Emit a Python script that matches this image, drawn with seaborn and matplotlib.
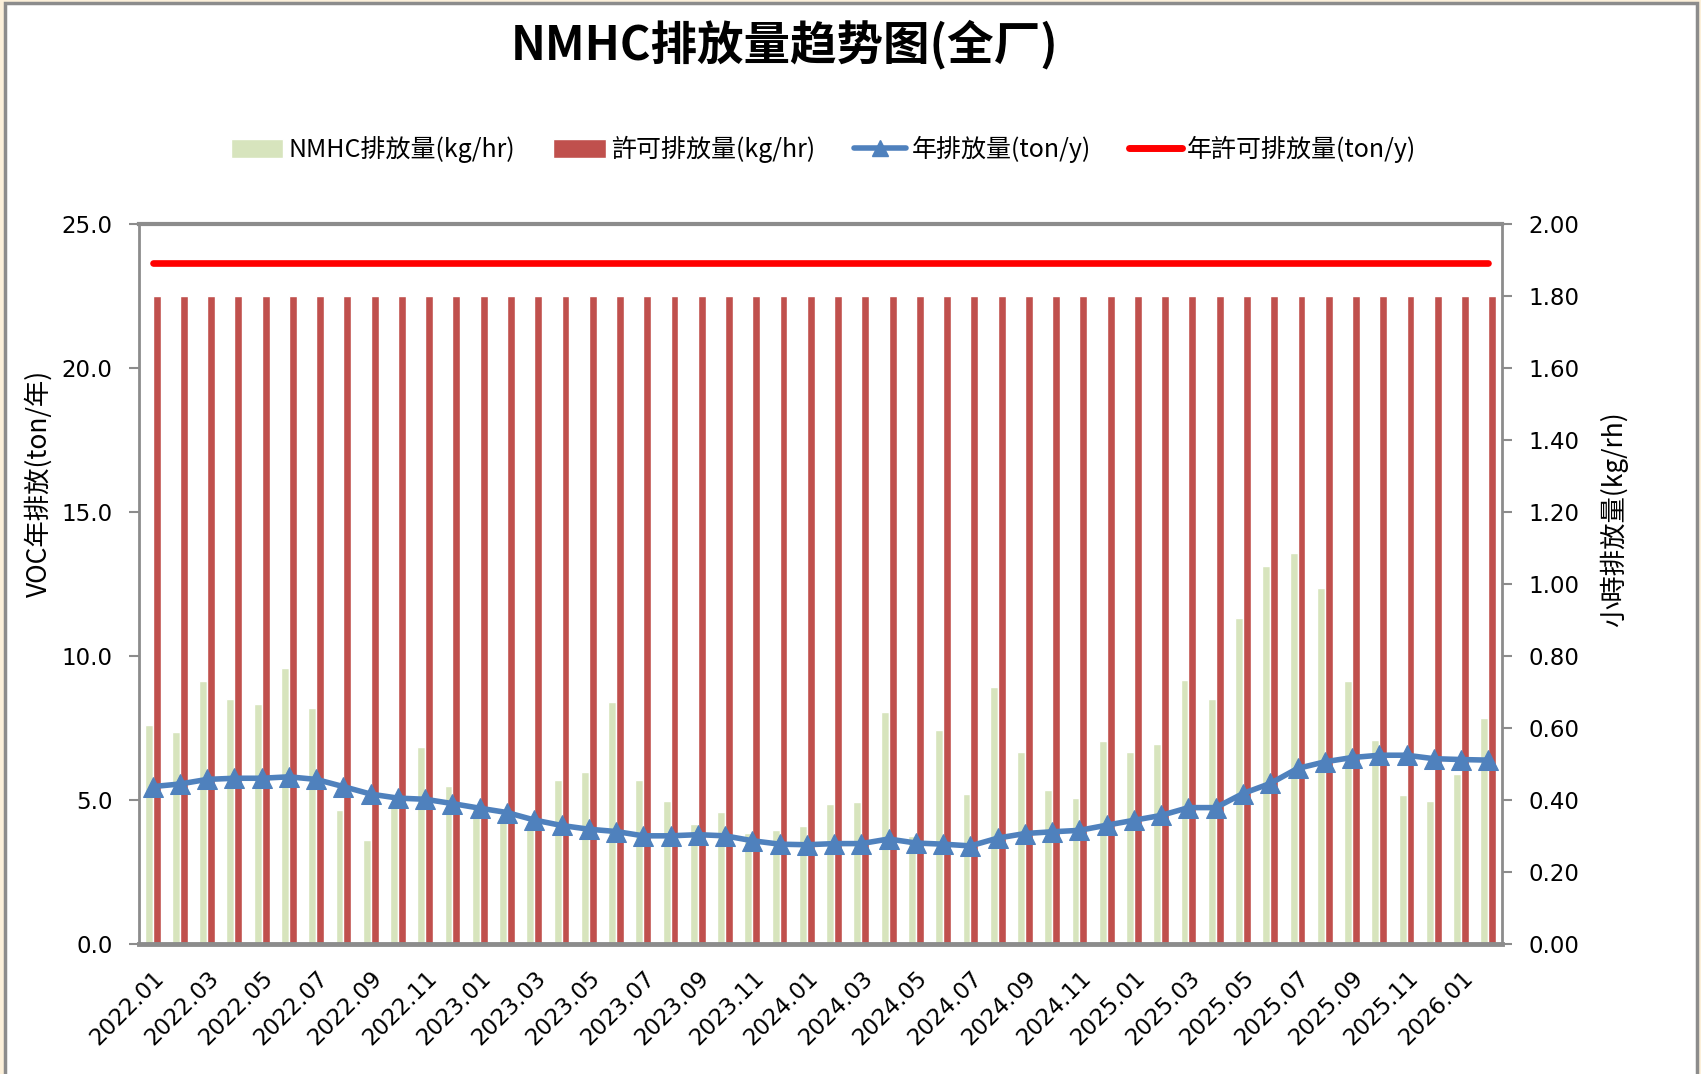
import numpy as np
import pandas as pd
import matplotlib
matplotlib.use("Agg")
import matplotlib.pyplot as plt
import seaborn as sns
from matplotlib.ticker import MultipleLocator, FormatStrFormatter
from matplotlib.patches import Patch, Rectangle
from matplotlib.lines import Line2D

# months 2022.01 - 2026.02
months = list(pd.period_range("2022-01", "2026-02", freq="M").strftime("%Y.%m"))

# hourly NMHC emission (kg/hr), right axis
nmhc_hr = [0.609, 0.589, 0.731, 0.681, 0.668, 0.768, 0.656, 0.373, 0.288, 0.384,
           0.549, 0.438, 0.390, 0.360, 0.330, 0.456, 0.477, 0.674, 0.456, 0.398,
           0.335, 0.366, 0.310, 0.317, 0.327, 0.388, 0.395, 0.645, 0.300, 0.595,
           0.417, 0.714, 0.535, 0.428, 0.406, 0.565, 0.535, 0.556, 0.735, 0.681,
           0.905, 1.050, 1.086, 0.989, 0.731, 0.568, 0.413, 0.398, 0.474, 0.628]
# permitted hourly emission (kg/hr)
permit_hr = [1.80] * len(months)

# annual emission (ton/y), left axis
annual_ton = [5.47, 5.56, 5.72, 5.76, 5.76, 5.81, 5.72, 5.47, 5.21, 5.07,
              5.03, 4.88, 4.72, 4.57, 4.31, 4.12, 3.99, 3.91, 3.76, 3.76,
              3.80, 3.76, 3.59, 3.47, 3.45, 3.49, 3.49, 3.65, 3.51, 3.47,
              3.41, 3.68, 3.84, 3.90, 3.95, 4.13, 4.30, 4.47, 4.74, 4.74,
              5.23, 5.58, 6.10, 6.33, 6.48, 6.56, 6.56, 6.44, 6.41, 6.39]
# permitted annual emission (ton/y)
permit_ton = [23.65] * len(months)

labels = ["NMHC排放量(kg/hr)", "許可排放量(kg/hr)", "年排放量(ton/y)", "年許可排放量(ton/y)"]
c_green, c_red, c_blue, c_line = "#D7E4BD", "#C0504D", "#4F81BD", "#FF0000"
grey = "#8C8C8C"

sns.set_style("white")
plt.rcParams["font.family"] = ["Noto Sans CJK TC", "DejaVu Sans"]
plt.rcParams["text.color"] = "black"
plt.rcParams["axes.labelcolor"] = "black"
plt.rcParams["xtick.color"] = "black"
plt.rcParams["ytick.color"] = "black"

fig = plt.figure(figsize=(17.01, 10.74), dpi=100)
fig.patch.set_facecolor("#FCF0DA")
fig.add_artist(Rectangle((5 / 1701, -0.01), 1692 / 1701, 1.01 - 3 / 1074,
                         transform=fig.transFigure, facecolor="white",
                         edgecolor=grey, linewidth=2.5, zorder=-10))

ax = fig.add_axes([0.0817, 0.121, 0.8013, 0.670])
ax2 = ax.twinx()

# bars on the secondary axis
bars = pd.DataFrame({
    "month": months * 2,
    "value": nmhc_hr + permit_hr,
    "series": [labels[0]] * len(months) + [labels[1]] * len(months),
})
sns.barplot(data=bars, x="month", y="value", hue="series",
            palette={labels[0]: c_green, labels[1]: c_red},
            width=0.58, saturation=1, errorbar=None, legend=False, ax=ax2)

# lines on the primary axis
pos = np.arange(len(months))
sns.lineplot(x=pos, y=permit_ton, color=c_line, linewidth=4.8,
             solid_capstyle="round", ax=ax)
sns.lineplot(x=pos, y=annual_ton, color=c_blue, linewidth=4, marker="^",
             markersize=14.5, markeredgecolor=c_blue, ax=ax)

ax.set_zorder(ax2.get_zorder() + 1)
ax.patch.set_visible(False)

# y axes
ax.set_ylim(0, 25)
ax.yaxis.set_major_locator(MultipleLocator(5))
ax.yaxis.set_major_formatter(FormatStrFormatter("%.1f"))
ax2.set_ylim(0, 2)
ax2.yaxis.set_major_locator(MultipleLocator(0.2))
ax2.yaxis.set_major_formatter(FormatStrFormatter("%.2f"))
ax2.yaxis.set_minor_locator(MultipleLocator(0.4))
ax.grid(False)
ax2.grid(False)
ax2.grid(which="minor", axis="y", color=grey, linewidth=2)
ax2.set_axisbelow(True)

# x axis
ax.set_xlim(-0.5, len(months) - 0.5)
ax.set_xticks(pos[::2])
ax.set_xticklabels(months[::2], rotation=45, ha="right", rotation_mode="anchor")
ax.set_xticks(np.arange(-0.5, len(months), 1), minor=True)
ax.set_xlabel("")
ax2.set_xlabel("")

ax.tick_params(axis="x", which="major", length=0, pad=16, labelsize=16.5)
ax.tick_params(axis="x", which="minor", length=8, width=1.5, color=grey)
ax.tick_params(axis="y", which="major", length=7, width=1.5, color=grey,
               labelsize=16.5, pad=12)
ax2.tick_params(axis="y", which="major", length=7, width=1.5, color=grey,
                labelsize=16.5, pad=12)
ax2.tick_params(axis="y", which="minor", length=0)
for t in ax.get_xticklabels() + ax.get_yticklabels() + ax2.get_yticklabels():
    t.set_fontfamily("DejaVu Sans")

for s in ax.spines.values():
    s.set_color(grey)
    s.set_linewidth(2)
ax.spines["bottom"].set_linewidth(3.5)
ax.spines["top"].set_linewidth(3)
for s in ax2.spines.values():
    s.set_visible(False)

ax.set_ylabel("VOC年排放(ton/年)", fontsize=19)
ax.yaxis.set_label_coords(-0.063, 0.64)
ax2.set_ylabel("小時排放量(kg/rh)", fontsize=19)
ax2.yaxis.set_label_coords(1.072, 0.59)

fig.text(0.4615, 0.958, "NMHC排放量趋势图(全厂)", ha="center", va="center",
         fontsize=33.5, fontweight="bold", family=["Noto Sans CJK SC", "DejaVu Sans"])

handles = [
    Patch(facecolor=c_green),
    Patch(facecolor=c_red),
    Line2D([], [], color=c_blue, lw=4, marker="^", markersize=11),
    Line2D([], [], color=c_line, lw=5),
]
fig.legend(handles, labels, loc="center", bbox_to_anchor=(0.484, 0.861), ncol=4,
           frameon=False, fontsize=18, handlelength=2.1, handleheight=0.8,
           handletextpad=0.2, columnspacing=1.55)

fig.savefig("out.png", dpi=100, facecolor=fig.get_facecolor())
